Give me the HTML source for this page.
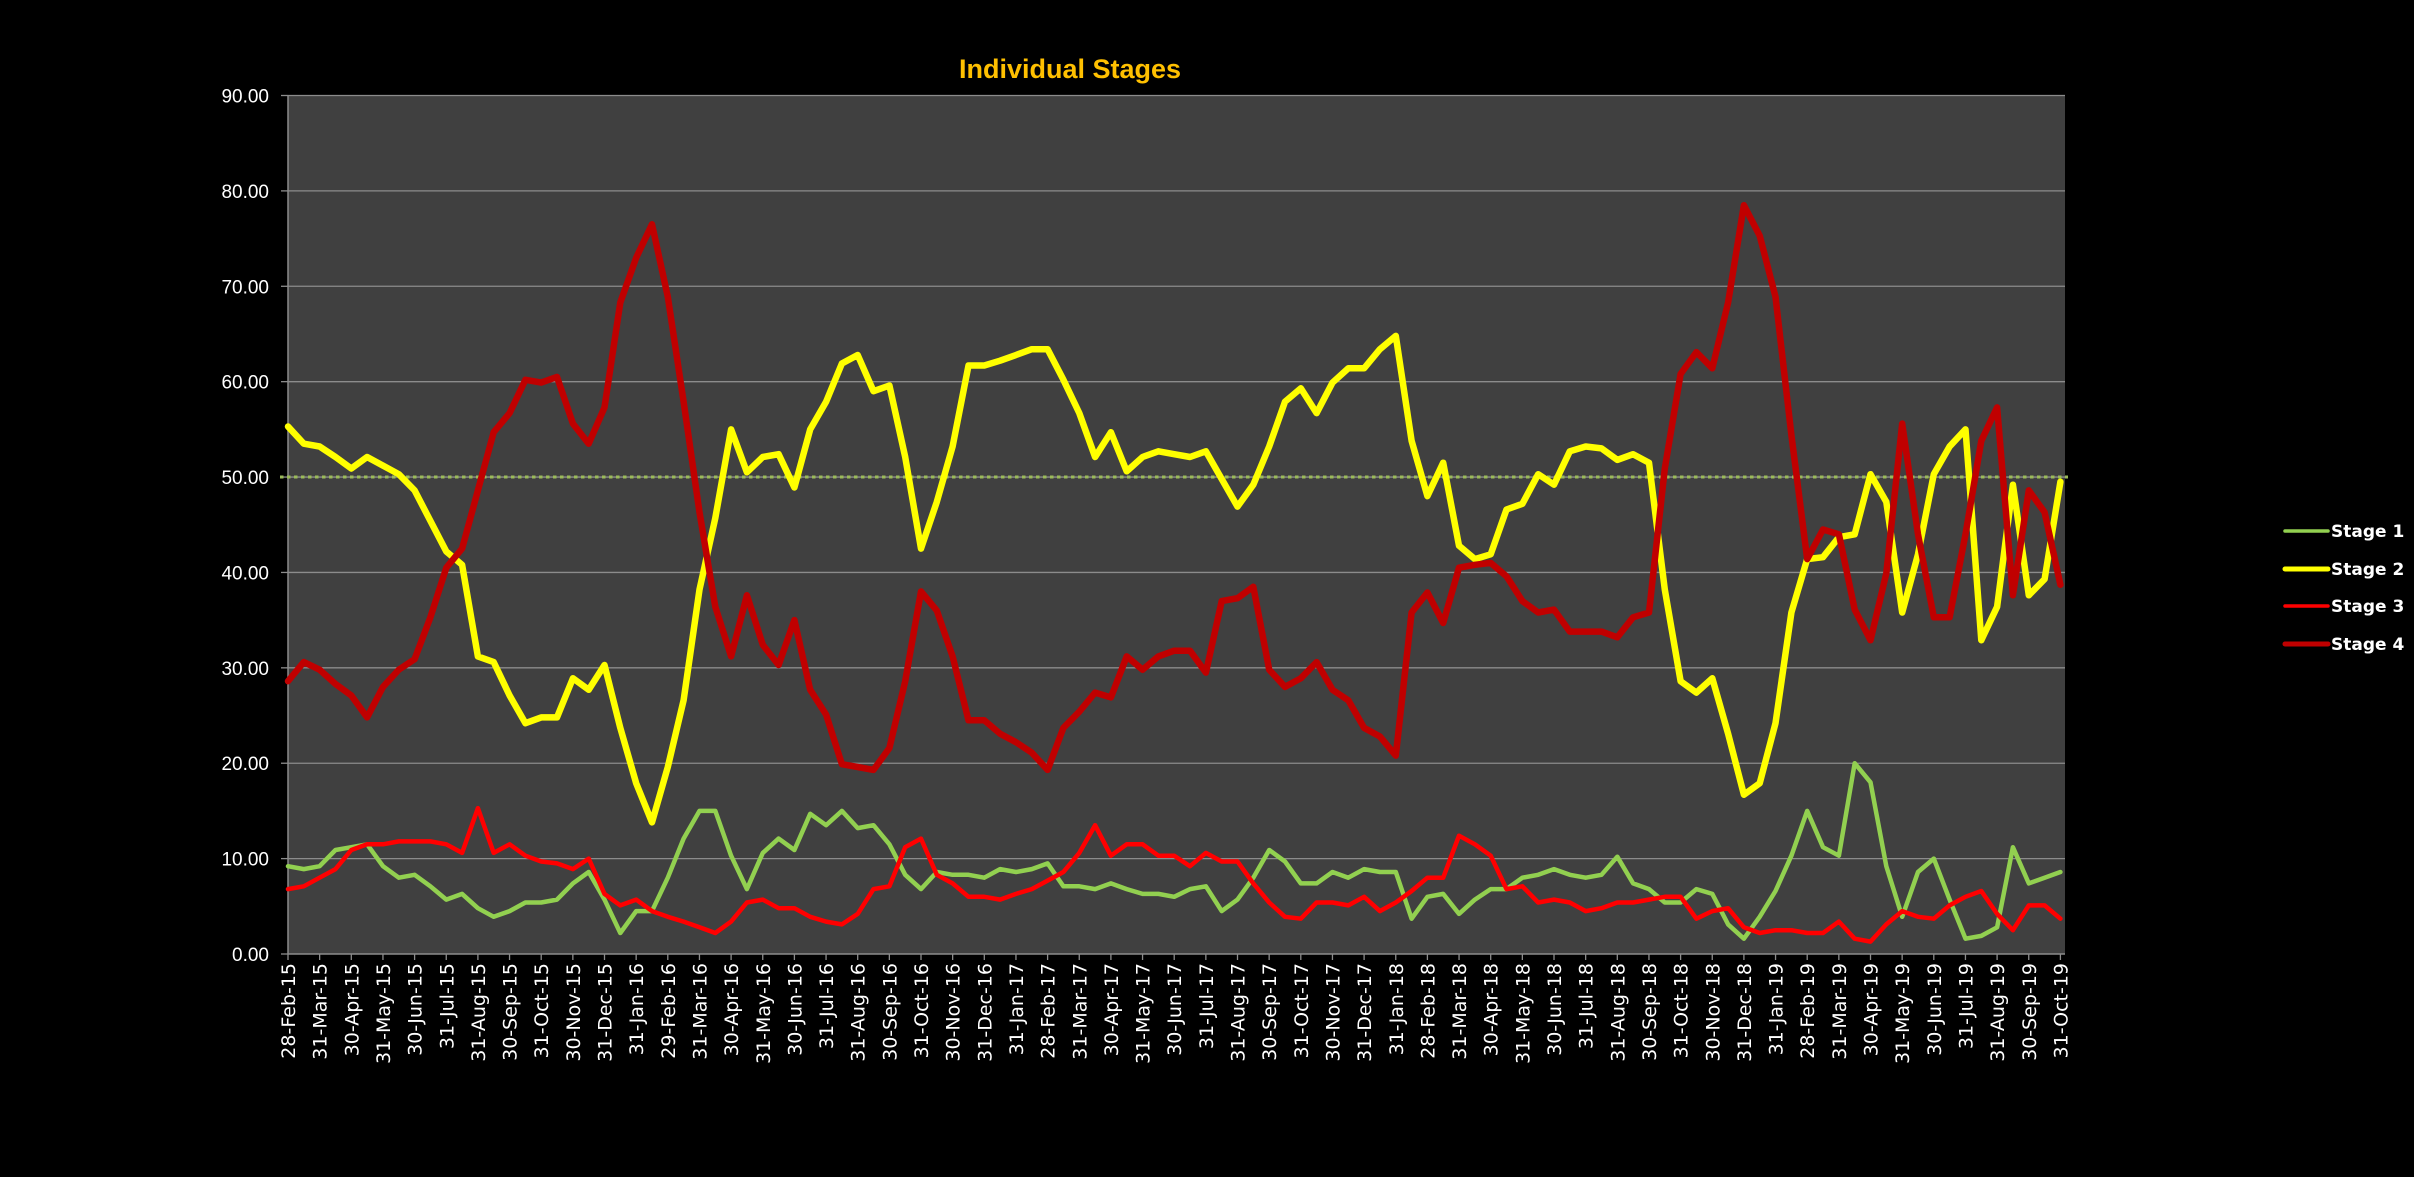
<!DOCTYPE html>
<html><head><meta charset="utf-8"><style>
html,body{margin:0;padding:0;background:#000;}
svg{display:block;}
</style></head><body>
<svg id="chart" width="2414" height="1177" xmlns="http://www.w3.org/2000/svg">
<rect x="0" y="0" width="2414" height="1177" fill="#000"/>
<text x="1070" y="78" text-anchor="middle" font-family="Liberation Sans, sans-serif" font-size="27" font-weight="bold" fill="#FFC000">Individual Stages</text>
<rect x="288" y="95" width="1777" height="859" fill="#404040"/>
<g id="grid"></g><g id="yaxis"></g><g id="xaxis"></g><g id="ref"></g><g id="series"></g>
<g id="legend"></g>
</svg>
<script>
const yTicks = [0,10,20,30,40,50,60,70,80,90];
const refValue = 50;
const seriesNames = ["Stage 1","Stage 2","Stage 3","Stage 4"];
const stage1 = [9.2,8.9,9.2,10.9,11.2,11.5,9.2,8,8.3,7.1,5.7,6.3,4.8,3.9,4.5,5.4,5.4,5.7,7.4,8.6,5.7,2.2,4.5,4.5,8,12.1,15,15,10.3,
6.8,10.6,12.1,10.9,14.7,13.5,15,13.2,13.5,11.5,8.3,6.8,8.6,8.3,8.3,8,8.9,8.6,8.9,9.5,7.1,7.1,6.8,7.4,6.8,6.3,6.3,6,
6.8,7.1,4.5,5.7,8,10.9,9.7,7.4,7.4,8.6,8,8.9,8.6,8.6,3.7,6,6.3,4.2,5.7,6.8,6.8,8,8.3,8.9,8.3,8,8.3,10.2,
7.4,6.8,5.4,5.4,6.8,6.3,3.1,1.6,3.9,6.6,10.3,15,11.2,10.3,20,18,9.2,3.9,8.6,10,5.7,1.6,1.9,2.8,11.2,7.4,8,8.6];
const stage2 = [55.3,53.5,53.2,52.1,50.9,52.1,51.2,50.3,48.6,45.4,42.2,40.8,31.2,30.6,27.1,24.2,24.8,24.8,28.9,27.7,30.3,23.7,17.9,13.8,19.6,26.6,38.2,45.7,55,
50.5,52.1,52.4,48.9,55,57.9,61.9,62.8,59,59.6,52.1,42.5,47.4,53.2,61.7,61.7,62.2,62.8,63.4,63.4,60.2,56.7,52.1,54.7,50.6,52.1,52.7,52.4,
52.1,52.7,49.8,46.9,49.2,53.2,57.9,59.3,56.7,59.9,61.4,61.4,63.4,64.8,53.8,48,51.5,42.8,41.4,41.9,46.6,47.2,50.3,49.2,52.7,53.2,53,51.8,
52.4,51.5,38.2,28.6,27.4,28.9,23.1,16.7,17.9,24.2,35.8,41.4,41.6,43.7,44,50.3,47.4,35.8,41.9,50.3,53.2,55,32.9,36.4,49.2,37.6,39.3,49.5];
const stage3 = [6.8,7.1,8,8.9,10.9,11.5,11.5,11.8,11.8,11.8,11.5,10.6,15.3,10.6,11.5,10.3,9.7,9.5,8.9,10,6.3,5.1,5.7,4.5,3.9,3.4,2.8,2.2,3.4,
5.4,5.7,4.8,4.8,3.9,3.4,3.1,4.2,6.8,7.1,11.2,12.1,8.3,7.4,6,6,5.7,6.3,6.8,7.7,8.6,10.6,13.5,10.3,11.5,11.5,10.3,10.3,
9.2,10.6,9.7,9.7,7.4,5.4,3.9,3.7,5.4,5.4,5.1,6,4.5,5.4,6.6,8,8,12.4,11.5,10.3,6.8,7.1,5.4,5.7,5.4,4.5,4.8,5.4,
5.4,5.7,6,6,3.7,4.5,4.8,2.8,2.2,2.5,2.5,2.2,2.2,3.4,1.6,1.3,3.1,4.5,3.9,3.7,5.1,6,6.6,4.2,2.5,5.1,5.1,3.7];
const stage4 = [28.6,30.6,29.8,28.3,27.1,24.8,28,29.8,30.9,35.3,40.5,42.5,48.6,54.7,56.7,60.2,59.9,60.5,55.6,53.5,57.3,68.3,73,76.5,68.9,57.9,46.3,36.4,31.2,
37.6,32.4,30.3,35,27.7,25.1,19.9,19.6,19.3,21.6,28.6,38,36,31.2,24.5,24.5,23.1,22.2,21.1,19.3,23.7,25.4,27.4,26.9,31.2,29.8,31.2,31.8,
31.8,29.5,37,37.3,38.5,29.8,28,28.9,30.6,27.7,26.6,23.7,22.8,20.8,35.8,37.9,34.7,40.5,40.8,41,39.6,37,35.8,36.1,33.8,33.8,33.8,33.2,
35.3,35.8,50.9,60.8,63.1,61.4,68.3,78.5,75.3,68.9,54.4,41.4,44.5,44,36.1,32.9,39.9,55.6,44,35.3,35.3,44,53.8,57.3,37.6,48.6,46.3,38.7];
const allSeries = [stage1, stage2, stage3, stage4];
const seriesColors = ["#92D050","#FFFF00","#FF0000","#C00000"];
const seriesWidths = [4.5,6.5,4.5,6.5];

const NS = "http://www.w3.org/2000/svg";
const X0 = 288, X1 = 2060.4, Y0 = 954, Y90 = 95.5, NMONTHS = 56;
function xScale(m){ return X0 + (X1 - X0) * m / NMONTHS; }
function yScale(v){ return Y0 - (Y0 - Y90) * v / 90; }
function mk(tag, attrs, parent){ const e = document.createElementNS(NS, tag); for (const k in attrs) e.setAttribute(k, attrs[k]); parent.appendChild(e); return e; }

function monthEnd(year, mi){ return new Date(year, mi + 1, 0).getDate(); }
const monthNames = ["Jan","Feb","Mar","Apr","May","Jun","Jul","Aug","Sep","Oct","Nov","Dec"];
const tickLabels = [];
for (let i = 0; i <= NMONTHS; i++){
  const mi = (1 + i) % 12, yr = 2015 + Math.floor((1 + i) / 12);
  tickLabels.push(monthEnd(yr, mi) + "-" + monthNames[mi] + "-" + String(yr).slice(2));
}

const grid = document.getElementById("grid");
const yaxis = document.getElementById("yaxis");
yTicks.forEach(v => {
  const y = yScale(v);
  if (v > 0) {
    const g = mk("line", {x1:X0, x2:2065, y1:y, y2:y, stroke:"#8c8c8c", "stroke-width":1.3}, grid);
    
    
  }
  const t = mk("line", {x1:X0-7, x2:X0, y1:y, y2:y, stroke:"#8c8c8c", "stroke-width":1.3}, yaxis);
  
  
  const l = mk("text", {x:269, y:y+7, "text-anchor":"end", fill:"#fff", "font-family":"Liberation Sans, sans-serif", "font-size":19}, yaxis);
  l.textContent = v.toFixed(2);
  
  
});
const ya = mk("line", {x1:X0, x2:X0, y1:Y90, y2:Y0, stroke:"#8c8c8c", "stroke-width":1.5}, yaxis);



const xaxis = document.getElementById("xaxis");
const xa = mk("line", {x1:X0, x2:2065, y1:Y0, y2:Y0, stroke:"#8c8c8c", "stroke-width":1.5}, xaxis);


tickLabels.forEach((lab, i) => {
  const x = xScale(i);
  const t = mk("line", {x1:x, x2:x, y1:Y0, y2:Y0+6, stroke:"#8c8c8c", "stroke-width":1.3}, xaxis);
  
  
  const tx = mk("text", {x:0, y:0, "text-anchor":"end", fill:"#fff", "font-family":"DejaVu Sans, sans-serif", "font-size":19, transform:"translate(" + (x+7) + "," + (Y0+9) + ") rotate(-90)"}, xaxis);
  tx.textContent = lab;
  
  
});

const ref = document.getElementById("ref");
const rl = mk("line", {x1:280, x2:2068, y1:yScale(refValue), y2:yScale(refValue), stroke:"#9BBB59", "stroke-width":3, "stroke-dasharray":"3.5 3.5"}, ref);



const sg = document.getElementById("series");
allSeries.forEach((arr, s) => {
  const pts = arr.map((v, i) => xScale(i / 2).toFixed(1) + "," + yScale(v).toFixed(1)).join(" ");
  const p = mk("polyline", {points:pts, fill:"none", stroke:seriesColors[s], "stroke-width":seriesWidths[s], "stroke-linejoin":"round", "stroke-linecap":"round"}, sg);
  
  
});

const lg = document.getElementById("legend");
const legendY = [531, 569, 606, 644];
seriesNames.forEach((n, s) => {
  const ln = mk("line", {x1:2285, x2:2328, y1:legendY[s], y2:legendY[s], stroke:seriesColors[s], "stroke-width":s % 2 ? 5 : 3.5, "stroke-linecap":"round"}, lg);
  
  
  const t = mk("text", {x:2331, y:legendY[s]+6, fill:"#fff", "font-family":"DejaVu Sans, sans-serif", "font-size":17, "font-weight":"bold"}, lg);
  t.textContent = n;
  
  
});
</script>
</body></html>
